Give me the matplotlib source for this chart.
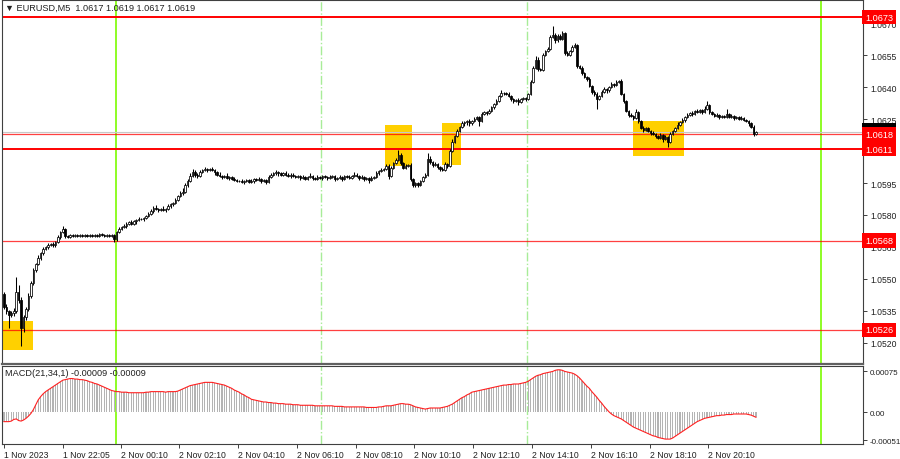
import numpy as np
import matplotlib
matplotlib.use('Agg')
import matplotlib.pyplot as plt

plt.rcParams['font.family'] = ['Liberation Sans', 'DejaVu Sans']

# EURUSD M5 closes, in pips above 1.0500 (one row = one hour)
closes = [
    37, 35, 33, 34, 35, 44, 40, 27, 32, 36, 42, 48,
    54, 57, 60, 62, 64, 65, 66, 66.5, 66, 67.5, 69.5, 72,
    73.5, 70, 69.5, 70.5, 70, 70.5, 70, 70.5, 70, 70.5, 70, 70.5,
    70, 70.5, 70, 71, 70.5, 70, 70.5, 70, 70.5, 68.5, 72, 73.5,
    74.5, 75, 76, 76.5, 76, 77, 77.5, 78, 78, 78.5, 79.5, 80.5,
    82, 83.5, 83, 82.5, 83, 82.5, 83, 84, 85, 85.5, 87, 89,
    90.5, 91, 94, 96, 98.5, 100, 99, 98.5, 100, 101, 101.5, 101,
    101.5, 101, 100, 99, 98.5, 98, 98.5, 97.5, 98, 97, 96.5, 96,
    96, 95.5, 96, 96.5, 95.5, 96, 97, 96.5, 97, 96, 96.5, 95.5,
    98, 99, 99.5, 100, 99.5, 99, 99.5, 99, 98.5, 99, 98.5, 98,
    98.5, 97.5, 98, 97, 98, 98.5, 97.5, 97, 98, 97.5, 98.5, 98,
    97.5, 98, 98.5, 97, 97.5, 98, 97, 98.5, 98, 97.5, 98.5, 99,
    98.5, 97.5, 98, 97, 97.5, 96.5, 97.5, 98, 99.5, 100.5, 101, 101.5,
    103, 98.5, 102, 104.5, 106, 108, 104.5, 102, 103, 103.5, 97, 94,
    95, 94, 96, 98, 99, 106.5, 105, 103.5, 104, 102.5, 101.5, 101,
    104, 103, 110, 114.5, 117, 119.5, 121.5, 123, 123.5, 124, 123, 124,
    125, 126, 124, 127.5, 128.5, 128, 129, 130.5, 132, 133.5, 136, 137.5,
    137.5, 137, 136, 134.5, 133.5, 134, 133, 134.5, 135, 134.5, 137, 142.5,
    149, 153, 148.5, 148, 155, 157, 158, 163.5, 164.5, 162, 164, 162.5,
    165.5, 156, 155, 157, 159, 160, 150, 149, 146.5, 145, 144, 140.5,
    138, 137, 134.5, 136, 138, 139, 138.5, 140, 141.5, 141, 142.5, 143,
    137, 133.5, 129, 127, 126.5, 125.5, 128.5, 124, 121, 120, 121, 119.5,
    118.5, 118, 117, 116, 117.5, 115.5, 116.5, 114.5, 118, 119.5, 121, 122.5,
    123.5, 124.5, 126, 127, 128, 127.5, 129, 128.5, 129.5, 128.5, 130, 131.5,
    128.5, 127.5, 126.5, 127, 126, 126.5, 126, 127.5, 126, 126.5, 125.5, 126,
    125, 125.5, 124.5, 124, 123, 121.5, 118, 119,
]
first_open = 43

# wick lengths beyond the body, in half pips
wick_up = [
    2, 2, 1, 2, 3, 14, 6, 3, 2, 2, 3, 2,
    2, 1, 2, 1, 2, 1, 2, 1, 2, 1, 2, 1,
    3, 1, 1, 1, 1, 1, 1, 1, 1, 1, 1, 1,
    1, 1, 1, 1, 1, 1, 1, 1, 1, 1, 1, 2,
    1, 2, 1, 1, 2, 1, 1, 2, 1, 1, 1, 2,
    2, 1, 2, 1, 1, 2, 1, 2, 1, 1, 2, 1,
    2, 3, 2, 2, 2, 3, 2, 1, 2, 1, 2, 1,
    1, 2, 1, 1, 2, 1, 1, 2, 1, 1, 2, 1,
    1, 2, 1, 1, 1, 2, 1, 1, 2, 1, 1, 1,
    2, 1, 1, 2, 1, 1, 1, 2, 1, 1, 1, 1,
    1, 1, 2, 1, 1, 2, 1, 1, 2, 1, 1, 1,
    1, 2, 1, 1, 1, 2, 1, 1, 1, 2, 1, 2,
    1, 1, 2, 1, 1, 1, 2, 1, 2, 1, 2, 1,
    2, 2, 2, 1, 2, 5, 2, 1, 2, 1, 2, 1,
    1, 1, 1, 1, 1, 5, 2, 1, 2, 1, 1, 2,
    2, 1, 2, 2, 1, 2, 1, 2, 1, 1, 2, 1,
    2, 1, 1, 2, 1, 1, 2, 1, 1, 2, 1, 2,
    1, 1, 2, 1, 1, 1, 2, 1, 1, 1, 1, 2,
    2, 3, 2, 1, 2, 1, 2, 2, 9, 2, 2, 2,
    2, 1, 2, 1, 2, 2, 1, 1, 2, 1, 1, 2,
    1, 1, 2, 1, 1, 2, 1, 1, 2, 1, 2, 1,
    2, 1, 1, 1, 2, 1, 3, 1, 1, 2, 1, 1,
    1, 2, 1, 1, 2, 1, 2, 1, 2, 1, 1, 2,
    1, 2, 1, 2, 1, 2, 1, 2, 1, 1, 2, 4,
    1, 1, 1, 2, 1, 1, 1, 5, 1, 2, 1, 1,
    1, 2, 1, 1, 1, 1, 2, 1,
]
wick_dn = [
    2, 3, 12, 2, 3, 2, 3, 17, 4, 3, 2, 2,
    2, 2, 1, 2, 2, 1, 2, 1, 2, 2, 1, 2,
    1, 2, 1, 1, 1, 1, 1, 1, 1, 1, 1, 1,
    1, 1, 1, 1, 1, 1, 1, 1, 1, 2, 1, 1,
    1, 1, 2, 1, 1, 1, 2, 1, 1, 2, 1, 1,
    1, 2, 1, 2, 1, 1, 2, 1, 1, 2, 1, 1,
    1, 2, 1, 2, 1, 1, 2, 2, 1, 1, 1, 2,
    1, 1, 2, 1, 1, 2, 1, 1, 2, 1, 1, 1,
    1, 1, 2, 1, 1, 1, 2, 1, 1, 2, 1, 2,
    1, 1, 1, 1, 2, 1, 1, 1, 1, 2, 1, 1,
    1, 2, 1, 1, 1, 1, 2, 1, 1, 1, 2, 1,
    2, 1, 1, 2, 1, 1, 2, 1, 1, 1, 1, 1,
    1, 2, 1, 2, 1, 3, 1, 1, 1, 1, 1, 1,
    1, 3, 1, 1, 1, 1, 2, 1, 1, 1, 2, 2,
    2, 2, 1, 1, 1, 1, 2, 2, 1, 2, 2, 1,
    1, 2, 1, 1, 1, 1, 1, 1, 2, 2, 2, 1,
    1, 1, 4, 1, 1, 2, 1, 1, 1, 1, 1, 1,
    2, 1, 1, 2, 2, 1, 3, 1, 1, 2, 1, 1,
    1, 1, 2, 1, 1, 1, 1, 1, 1, 2, 1, 1,
    1, 2, 1, 1, 1, 1, 2, 1, 1, 1, 2, 1,
    2, 2, 9, 1, 1, 1, 2, 1, 1, 2, 1, 1,
    1, 2, 1, 2, 1, 2, 1, 2, 1, 2, 1, 1,
    2, 1, 2, 1, 1, 2, 1, 5, 1, 1, 1, 1,
    1, 1, 2, 1, 1, 2, 1, 1, 1, 2, 1, 1,
    2, 1, 1, 1, 2, 1, 1, 1, 1, 1, 2, 1,
    1, 1, 1, 1, 2, 1, 2, 1,
]

# MACD(21,34,1) main value per bar, in units of 0.00001
macd = [
    -17, -17, -17, -16, -13, -12, -15, -16, -14, -11, -7, -2,
    5, 14, 23, 29, 34, 38, 41, 44, 47, 50, 53, 56,
    59, 60, 61, 62, 62, 61, 61, 60, 60, 59, 58, 56,
    55, 53, 52, 50, 48, 46, 44, 42, 40, 39, 38, 38,
    37, 37, 37, 36, 36, 36, 36, 36, 36, 36, 37, 37,
    38, 38, 38, 38, 38, 38, 37, 38, 38, 38, 38, 39,
    41, 43, 45, 47, 49, 50, 51, 52, 53, 54, 55, 55,
    55, 55, 54, 53, 52, 51, 50, 48, 46, 44, 41, 39,
    37, 34, 32, 29, 27, 24, 23, 22, 21, 20, 19, 19,
    18, 18, 17, 17, 16, 16, 16, 15, 15, 15, 14, 14,
    14, 13, 13, 13, 13, 13, 13, 12, 12, 12, 12, 12,
    12, 12, 12, 11, 11, 11, 11, 10, 10, 10, 10, 10,
    10, 10, 10, 10, 9, 9, 9, 9, 9, 10, 10, 11,
    12, 12, 12, 13, 14, 15, 16, 16, 15, 15, 14, 12,
    10, 9, 8, 7, 6, 7, 8, 8, 8, 8, 8, 9,
    10, 11, 13, 15, 18, 21, 24, 27, 29, 32, 34, 37,
    38, 39, 40, 41, 42, 43, 44, 45, 46, 47, 48, 49,
    50, 50, 51, 51, 52, 52, 52, 53, 54, 55, 57, 60,
    63, 66, 68, 69, 71, 72, 73, 74, 75, 77, 78, 78,
    77, 75, 74, 73, 72, 70, 67, 63, 58, 53, 48, 44,
    38, 33, 28, 22, 17, 11, 6, 1, -3, -6, -8, -10,
    -12, -15, -18, -21, -24, -27, -29, -31, -33, -35, -37, -39,
    -41, -43, -44, -46, -47, -48, -49, -49, -49, -47, -44, -41,
    -38, -35, -32, -29, -26, -23, -20, -17, -15, -13, -11, -10,
    -9, -8, -7, -6, -6, -5, -5, -4, -4, -4, -3, -3,
    -3, -3, -3, -3, -4, -5, -7, -9,
]

# support / resistance levels
levels = [1.0673, 1.0618, 1.0611, 1.0568, 1.0526]
level_widths = [1.4, 0.9, 1.4, 0.9, 0.9]
bid = 1.0619

# yellow signal zones: (bar from, bar to, low pips, high pips)
zones = [(-0.5, 11.8, 16.6, 30.2),
         (155.6, 166.6, 103.2, 122.4),
         (178.8, 186.6, 103.6, 123.2),
         (256.8, 277.5, 107.9, 124.3)]

tick_labels = ['1 Nov 2023', '1 Nov 22:05', '2 Nov 00:10', '2 Nov 02:10', '2 Nov 04:10',
               '2 Nov 06:10', '2 Nov 08:10', '2 Nov 10:10', '2 Nov 12:10', '2 Nov 14:10',
               '2 Nov 16:10', '2 Nov 18:10', '2 Nov 20:10']

n = len(closes)
x = np.arange(n)
c = 1.05 + np.array(closes) / 10000
o = np.r_[1.05 + first_open / 10000, c[:-1]]
hi = np.maximum(o, c) + np.array(wick_up) / 20000
lo = np.minimum(o, c) - np.array(wick_dn) / 20000
m = np.array(macd) / 100000

midnight = 45.6   # bar position of 2 Nov 00:00
fs = 6.2


def bar_of(label):
    if label == '1 Nov 2023':
        return 0
    day, hm = label.split(' Nov ')
    h, mi = map(int, hm.split(':'))
    return midnight + ((int(day) - 2) * 1440 + h * 60 + mi) / 5


tick_pos = [bar_of(t) for t in tick_labels]
tick_pos[1] = 24

fig = plt.figure(figsize=(9, 4.6), dpi=100)
ax = fig.add_axes([2 / 900, 1 - 365 / 460, 861 / 900, 364 / 460])
ax2 = fig.add_axes([2 / 900, 1 - 445 / 460, 861 / 900, 78 / 460])

for a in (ax, ax2):
    a.set_xlim(-0.8, 350.7)
    for s in a.spines.values():
        s.set_color('#404040')
        s.set_linewidth(0.8)
    a.yaxis.tick_right()
    a.tick_params(axis='y', labelsize=fs, length=3, width=0.6, pad=2, colors='#202020')
    # session lines
    for b in (midnight, midnight + 288):
        a.axvline(b, color='#7CFC00', lw=1.2, zorder=1)
    for b in (midnight + 84, midnight + 168):
        a.axvline(b, color='#A8EC98', lw=1, ls='-.', zorder=1)

ax.set_ylim(1.0510, 1.0681)
ax.spines['bottom'].set_linewidth(1.6)
ax.spines['bottom'].set_color('#606060')
ax.set_xticks([])
yt = np.arange(1.0520, 1.0671, 0.0015)
ax.set_yticks(yt)
ax.set_yticklabels([f'{v:.4f}' for v in yt])

for x0, x1, p0, p1 in zones:
    ax.fill_between([x0, x1], 1.05 + p0 / 10000, 1.05 + p1 / 10000,
                    color='#FFD000', lw=0, zorder=1.5)

ax.axhline(bid, color='#C8C8C8', lw=0.8, zorder=1.6)
for lv, lw in zip(levels, level_widths):
    ax.axhline(lv, color='#FF0000', lw=lw, alpha=1 if lw > 1 else 0.75, zorder=1.7)

# candles
up = c >= o
ax.vlines(x, lo, hi, color='black', lw=0.75, zorder=3)
ax.bar(x, np.maximum(np.abs(c - o), 0.000004), bottom=np.minimum(o, c), width=0.62,
       color=np.where(up, 'white', 'black'), edgecolor='black', linewidth=0.55, zorder=4)

# price labels on the right
lab_style = dict(transform=ax.get_yaxis_transform(), fontsize=fs + 0.4, va='center',
                 ha='left', clip_on=False)
box = 'square,pad=0.32'
ax.text(1.0025, bid + 0.00006, f'{bid:.4f}', color='white', zorder=10,
        bbox=dict(boxstyle=box, fc='black', ec='none'), **lab_style)
for lv in levels:
    shift = -0.00003 if lv == 1.0618 else 0
    ax.text(1.0025, lv + shift, f'{lv:.4f}', color='white', zorder=11,
            bbox=dict(boxstyle=box, fc='#FF0000', ec='none'), **lab_style)

ax.text(0.004, 0.993, '\u25bc EURUSD,M5  1.0617 1.0619 1.0617 1.0619', transform=ax.transAxes,
        fontsize=fs + 0.4, va='top', ha='left', color='#202020')

# MACD panel
ax2.bar(x, m, width=0.45, color='#B4B4B4', zorder=2)
ax2.plot(x, m, color='#FF2020', lw=0.8, zorder=3)
ax2.set_ylim(-0.00058, 0.00085)
ax2.set_yticks([0.00075, 0.0, -0.00051])
ax2.set_yticklabels(['0.00075', '0.00', '-0.00051'])
ax2.tick_params(axis='y', labelsize=5.8, pad=1.5)
ax2.set_xticks(tick_pos)
ax2.set_xticklabels(tick_labels, ha='left')
ax2.tick_params(axis='x', labelsize=fs, length=3, width=0.6, pad=1, colors='#202020')
ax2.text(0.004, 0.97, 'MACD(21,34,1) -0.00009 -0.00009', transform=ax2.transAxes,
         fontsize=fs + 0.4, va='top', ha='left', color='#202020')

fig.savefig('out.png', dpi=100)
